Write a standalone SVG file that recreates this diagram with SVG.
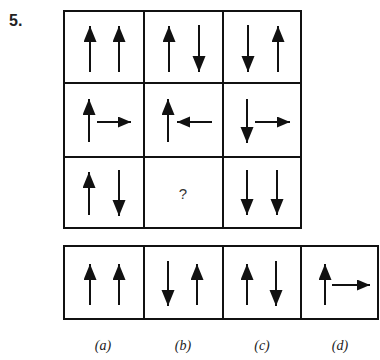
<svg xmlns="http://www.w3.org/2000/svg" width="380" height="360" viewBox="0 0 380 360">
<style>
.box{fill:none;stroke:#111;stroke-width:2}
.ar{stroke:#111;stroke-width:2;marker-end:url(#h)}
.hr{stroke:#111;stroke-width:2;marker-end:url(#hs)}
.lbl{font-family:"Liberation Serif",serif;font-style:italic;font-size:14px;fill:#222;text-anchor:middle}
.num{font-family:"Liberation Sans",Arial,sans-serif;font-weight:bold;font-size:16px;fill:#222}
.q{font-family:"Liberation Sans",Arial,sans-serif;font-size:15px;fill:#333;text-anchor:middle}
</style>
<defs>
<marker id="h" markerUnits="userSpaceOnUse" markerWidth="17" markerHeight="14" refX="16" refY="6.5" orient="auto">
<path d="M0,0 L16,6.5 L0,13 Z" fill="#111"/>
</marker>
<marker id="hs" markerUnits="userSpaceOnUse" markerWidth="14" markerHeight="12" refX="13" refY="5.5" orient="auto">
<path d="M0,0 L13,5.5 L0,11 Z" fill="#111"/>
</marker>
</defs>
<rect width="380" height="360" fill="#fff"/>
<text class="num" x="9" y="26">5.</text>
<g id="grid">
<rect class="box" x="64" y="11" width="237" height="217"/>
<line class="box" x1="144" y1="11" x2="144" y2="228"/>
<line class="box" x1="223" y1="11" x2="223" y2="228"/>
<line class="box" x1="64" y1="83" x2="301" y2="83"/>
<line class="box" x1="64" y1="157" x2="301" y2="157"/>
</g>
<g id="answers">
<rect class="box" x="64" y="246" width="314" height="73"/>
<line class="box" x1="144" y1="246" x2="144" y2="319"/>
<line class="box" x1="223" y1="246" x2="223" y2="319"/>
<line class="box" x1="301" y1="246" x2="301" y2="319"/>
</g>
<g id="r1c1"><line class="ar" x1="90" y1="72" x2="90" y2="26"/><line class="ar" x1="119" y1="72" x2="119" y2="26"/></g>
<g id="r1c2"><line class="ar" x1="169" y1="72" x2="169" y2="26"/><line class="ar" x1="199" y1="25" x2="199" y2="72"/></g>
<g id="r1c3"><line class="ar" x1="248" y1="25" x2="248" y2="72"/><line class="ar" x1="278" y1="72" x2="278" y2="26"/></g>
<g id="r2c1"><line class="ar" x1="89" y1="142" x2="89" y2="99"/><line class="hr" x1="97" y1="122" x2="131" y2="122"/></g>
<g id="r2c2"><line class="ar" x1="168" y1="142" x2="168" y2="99"/><line class="hr" x1="212" y1="122" x2="177" y2="122"/></g>
<g id="r2c3"><line class="ar" x1="247" y1="99" x2="247" y2="143"/><line class="hr" x1="255" y1="122" x2="290" y2="122"/></g>
<g id="r3c1"><line class="ar" x1="89" y1="215" x2="89" y2="172"/><line class="ar" x1="119" y1="170" x2="119" y2="216"/></g>
<g id="r3c2"><text class="q" x="183" y="199">?</text></g>
<g id="r3c3"><line class="ar" x1="247" y1="170" x2="247" y2="215"/><line class="ar" x1="277" y1="170" x2="277" y2="215"/></g>
<g id="optA"><line class="ar" x1="90" y1="305" x2="90" y2="264"/><line class="ar" x1="119" y1="305" x2="119" y2="264"/><text class="lbl" x="103" y="350">(a)</text></g>
<g id="optB"><line class="ar" x1="168" y1="261" x2="168" y2="306"/><line class="ar" x1="197" y1="305" x2="197" y2="264"/><text class="lbl" x="183" y="350">(b)</text></g>
<g id="optC"><line class="ar" x1="247" y1="305" x2="247" y2="264"/><line class="ar" x1="276" y1="261" x2="276" y2="306"/><text class="lbl" x="262" y="350">(c)</text></g>
<g id="optD"><line class="ar" x1="325" y1="305" x2="325" y2="264"/><line class="hr" x1="332" y1="285" x2="370" y2="285"/><text class="lbl" x="340" y="350">(d)</text></g>
</svg>
